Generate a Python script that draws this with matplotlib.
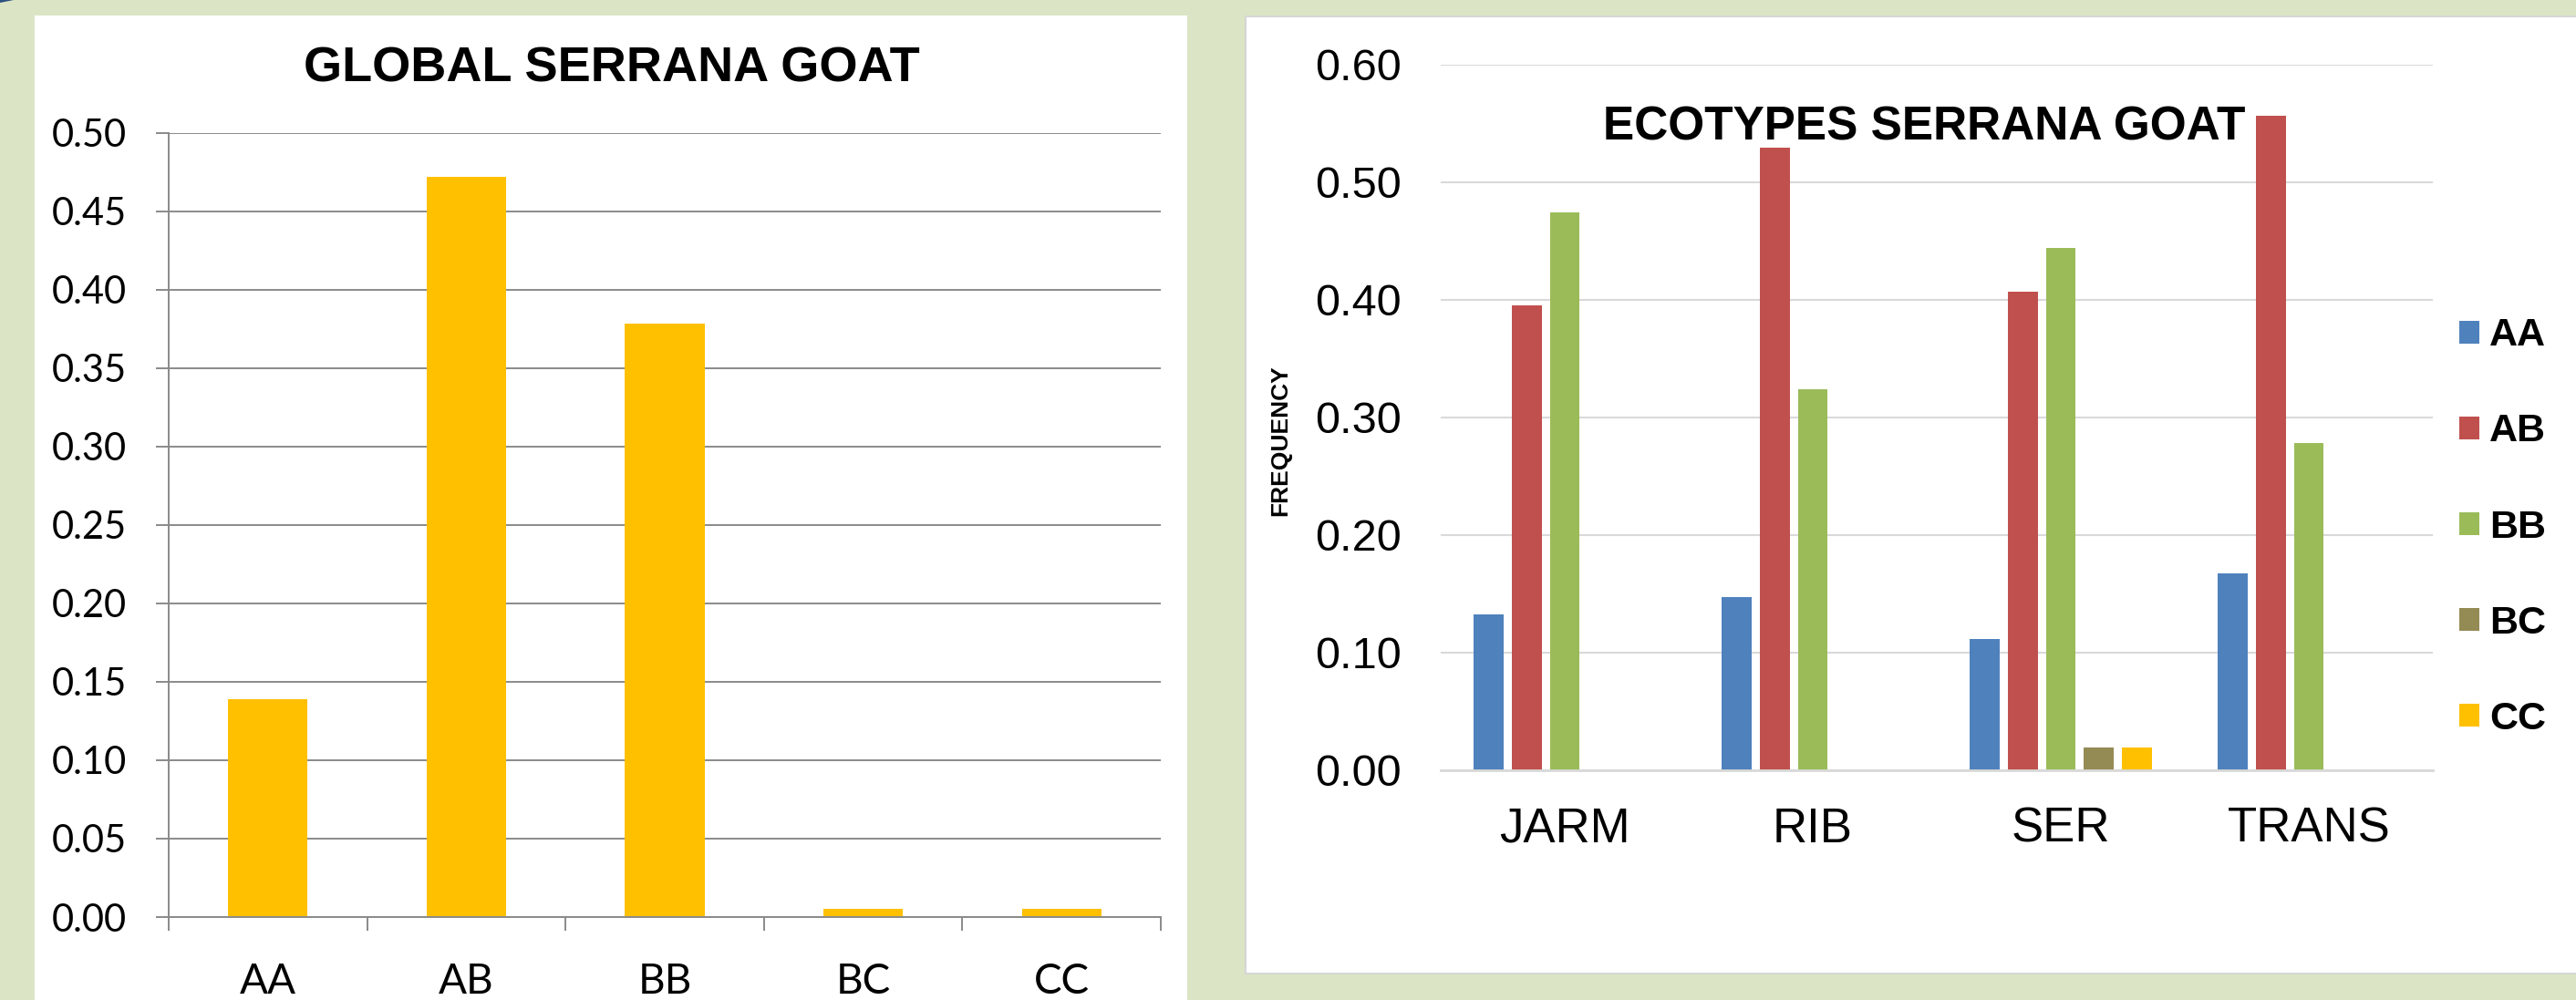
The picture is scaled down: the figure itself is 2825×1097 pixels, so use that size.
import matplotlib.pyplot as plt
from matplotlib.patches import Rectangle, Polygon
from matplotlib.ticker import FormatStrFormatter
import numpy as np

# genotype frequencies, whole breed
genotypes = ['AA', 'AB', 'BB', 'BC', 'CC']
global_freq = [0.139, 0.472, 0.378, 0.005, 0.005]

# genotype frequencies per ecotype
ecotypes = ['JARM', 'RIB', 'SER', 'TRANS']
freq_aa = [0.132, 0.147, 0.111, 0.167]
freq_ab = [0.395, 0.529, 0.407, 0.556]
freq_bb = [0.474, 0.324, 0.444, 0.278]
freq_bc = [0.0, 0.0, 0.019, 0.0]
freq_cc = [0.0, 0.0, 0.019, 0.0]

W, H = 2825, 1097
fig = plt.figure(figsize=(W / 100, H / 100), dpi=100, facecolor='#dbe5c5')


def frac_rect(x0, y0, x1, y1):
    # pixel box (top-left origin) -> figure fraction
    return (x0 / W, 1 - y1 / H), (x1 - x0) / W, (y1 - y0) / H


# white slide panels
xy, w, h = frac_rect(38, 17, 1302, 1110)
fig.patches.append(Rectangle(xy, w, h, transform=fig.transFigure,
                             facecolor='white', edgecolor='none', zorder=-5))
xy, w, h = frac_rect(1366, 18, 2840, 1068)
fig.patches.append(Rectangle(xy, w, h, transform=fig.transFigure,
                             facecolor='white', edgecolor='#d6d6d6', lw=1.5, zorder=-5))
fig.patches.append(Polygon([(0, 1), (15 / W, 1), (0, 1 - 3 / H)], closed=True,
                           transform=fig.transFigure, facecolor='#2c5080',
                           edgecolor='none', zorder=-4))

grey = '#8a8a8a'
yellow = '#ffc000'

# ---- left chart: global ----
ax1 = fig.add_axes([185 / W, (H - 1006) / H, 1088 / W, 860.5 / H])
x = np.arange(len(genotypes))
ax1.bar(x, global_freq, width=0.4, color=yellow, zorder=2)
ax1.set_xlim(-0.5, len(genotypes) - 0.5)
ax1.set_ylim(0, 0.5)
ax1.set_yticks(np.arange(0, 0.501, 0.05))
ax1.yaxis.set_major_formatter(FormatStrFormatter('%.2f'))
ax1.grid(axis='y', color=grey, lw=1.4)
ax1.set_axisbelow(True)
for s in ['top', 'right']:
    ax1.spines[s].set_visible(False)
for s in ['left', 'bottom']:
    ax1.spines[s].set_color(grey)
    ax1.spines[s].set_linewidth(1.4)
ax1.tick_params(axis='y', length=10, width=1.4, color=grey, pad=23,
                labelsize=30, labelfontfamily='Lato')
ax1.set_xticks(x, genotypes)
ax1.set_xticks(np.arange(-0.5, len(genotypes)), minor=True)
ax1.tick_params(axis='x', which='major', length=0, pad=36,
                labelsize=33, labelfontfamily='Lato')
ax1.tick_params(axis='x', which='minor', length=11, width=1.4, color=grey)
ax1.set_title('GLOBAL SERRANA GOAT', x=(671 - 185) / 1088, y=(1006 - 89) / 860.5,
              pad=0, fontsize=39, fontweight='bold', family='Liberation Sans')

# ---- right chart: ecotypes ----
ax2 = fig.add_axes([1580 / W, (H - 844.5) / H, 1088 / W, 773.8 / H])
series = [freq_aa, freq_ab, freq_bb, freq_bc, freq_cc]
colors = ['#4f81bd', '#c0504d', '#9bbb59', '#948a54', '#ffc000']
xe = np.arange(len(ecotypes))
slot = 0.154
for i, (vals, c, lab) in enumerate(zip(series, colors, genotypes)):
    ax2.bar(xe + (i - 2) * slot, vals, width=0.121, color=c, label=lab, zorder=2)
ax2.set_xlim(-0.5, len(ecotypes) - 0.5)
ax2.set_ylim(0, 0.6)
ax2.set_yticks(np.arange(0, 0.601, 0.1))
ax2.yaxis.set_major_formatter(FormatStrFormatter('%.2f'))
ax2.grid(axis='y', color='#d9d9d9', lw=1.5)
ax2.set_axisbelow(True)
for s in ['top', 'right', 'left']:
    ax2.spines[s].set_visible(False)
ax2.spines['bottom'].set_color('#d9d9d9')
ax2.spines['bottom'].set_linewidth(2)
ax2.tick_params(axis='y', length=0, pad=31, labelsize=35,
                labelfontfamily='Liberation Sans')
ax2.set_xticks(xe, ecotypes)
ax2.tick_params(axis='x', length=0, pad=29, labelsize=38,
                labelfontfamily='Liberation Sans')
ax2.set_ylabel('FREQUENCY', fontsize=19, fontweight='bold', family='Liberation Sans')
ax2.yaxis.label.set_verticalalignment('center')
ax2.yaxis.set_label_coords((1404 - 1580) / 1088, (844.5 - 483) / 773.8)
ax2.set_title('ECOTYPES SERRANA GOAT', x=(2110 - 1580) / 1088, y=(844.5 - 154) / 773.8,
              pad=0, fontsize=37, fontweight='bold', family='Liberation Sans', zorder=5)

ax2.legend(loc='center left', bbox_to_anchor=(2697 / W, 1 - 578.5 / H),
           bbox_transform=fig.transFigure, frameon=False, borderpad=0,
           borderaxespad=0, handlelength=0.51, handleheight=0.51,
           handletextpad=0.26, labelspacing=1.51,
           prop={'family': 'Liberation Sans', 'weight': 'bold', 'size': 31})

fig.savefig('out.png', dpi=100, facecolor=fig.get_facecolor())
